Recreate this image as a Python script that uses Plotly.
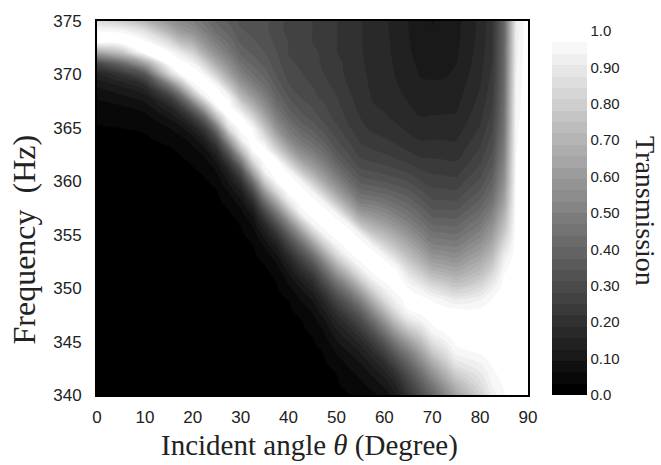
import numpy as np
import plotly.graph_objects as go

# Incident angles (deg) of the sampled columns
angles = [0, 5, 10, 15, 17.5, 20, 22.5, 25, 27.5, 30, 32.5, 35, 37.5, 40, 42.5, 45,
          47.5, 50, 52.5, 55, 57.5, 60, 62.5, 65, 67.5, 70, 72.5, 75, 80, 82.5, 85, 87.5, 90]
# Frequencies (Hz), top to bottom
freqs = [375, 374, 373, 372, 371, 370, 369, 368, 367, 366, 365, 364, 363, 362, 361, 360, 359, 358,
         357, 356, 355, 354, 353, 352, 351, 350, 349, 348, 347, 346, 345, 344, 343, 342, 341, 340]

# Transmission (%), one list per angle, f = 375 ... 340
T00 = [86,97,98.6,62,28,15,10,7,5,3.8, 2.9,2.5,2.2,2.0,1.9,1.7,1.6,1.5,1.4,1.3, 1.2,1.1,1.0,0.9,0.8,0.7,0.6,0.5,0.5,0.4, 0.4,0.3,0.3,0.2,0.2,0.2]
T05 = [80,96.5,99.5,74,40,21,13,9,6,4.5, 3.15,2.6,2.3,2.0,1.8,1.6,1.5,1.4,1.3,1.2, 1.1,1.0,0.9,0.8,0.7,0.6,0.5,0.5,0.4,0.4, 0.3,0.3,0.2,0.2,0.2,0.2]
T10 = [70,88,98.4,98.4,62,33,19,11.5,7.8,5.2, 3.5,2.8,2.4,2.1,1.9,1.7,1.6,1.5,1.4,1.3, 1.2,1.1,1.0,0.9,0.8,0.7,0.6,0.5,0.5,0.4, 0.4,0.3,0.3,0.3,0.2,0.2]
T15 = [58,70,86,98,99.2,80,47,26,15.5,9.8, 6.3,4.0,2.8,2.4,2.1,1.9,1.7,1.6,1.5,1.4, 1.3,1.2,1.1,1.0,0.9,0.8,0.7,0.6,0.5,0.5, 0.4,0.4,0.3,0.3,0.3,0.2]
T175 = [53,61,74,91,99.7,97.2,71,43,25,14.5, 8.6,5.5,3.6,2.75,2.4,2.1,1.9,1.7,1.6,1.5, 1.4,1.3,1.2,1.1,1.0,0.9,0.8,0.7,0.6,0.5, 0.5,0.4,0.4,0.3,0.3,0.3]
T20 = [50,57,68,82,95.2,100,95.5,70,42,24, 14,8.3,5.3,3.65,2.8,2.45,2.2,2.0,1.8,1.6, 1.5,1.4,1.3,1.2,1.1,1.0,0.9,0.8,0.7,0.6, 0.5,0.5,0.4,0.4,0.3,0.3]
T225 = [45,50,57,67,82,96,100,95.3,68,41, 24,14.5,8.6,5.5,3.7,2.8,2.5,2.3,2.0,1.8, 1.6,1.5,1.4,1.3,1.2,1.1,1.0,0.9,0.8,0.7, 0.6,0.5,0.5,0.4,0.4,0.3]
T25 = [40,43,49,56,66,80,95.8,100,96.5,74, 47,29,18,10.5,6.5,4.2,2.85,2.5,2.3,2.0, 1.8,1.6,1.5,1.4,1.3,1.2,1.1,1.0,0.9,0.8, 0.7,0.6,0.5,0.5,0.4,0.4]
T275 = [37,39.5,43,48,55,64,77,94.2,99.7,98.3, 86,62,40,25,15,10,6.5,4.0,2.8,2.4, 2.1,1.9,1.7,1.6,1.5,1.4,1.3,1.2,1.1,1.0, 0.9,0.8,0.7,0.6,0.5,0.5]
T30 = [33.5,35,37,40,45,51,60,71,86,98.7, 99.6,93,74,50,31,19.5,12,7.7,5.0,3.2, 2.6,2.4,2.2,2.0,1.9,1.7,1.6,1.5,1.4,1.3, 1.2,1.1,1.0,0.9,0.8,0.7]
T325 = [33,33.5,35,37,40,44,50.5,59,70,83, 96.3,99.9,98,86,66,44,28,17,10.5,6.8, 4.3,3.0,2.6,2.3,2.1,1.9,1.7,1.6,1.5,1.4, 1.3,1.2,1.1,1.0,0.9,0.8]
T35 = [32,32,33,34.5,36.5,39.5,43.5,49,56,65, 76,88,98.8,99.7,94.8,79,59,41,27,17, 11,6.8,4.2,2.9,2.6,2.3,2.1,1.9,1.7,1.6, 1.5,1.4,1.3,1.2,1.1,1.0]
T375 = [30,30,30.5,31.5,32.5,34,36.5,39.5,44,50, 57,68,81,97.2,100,97.2,84,64,46,32, 21,13.5,8.7,5.4,3.35,2.9,2.6,2.3,2.1,1.9, 1.7,1.6,1.5,1.4,1.3,1.2]
T40 = [27,27,28,28,29,30,31.5,34,37,41, 47,53,64,79,95.6,99.8,98.4,89,70,51, 37,26,17.5,11.8,7.8,5.2,3.25,2.65,2.4,2.2, 2.0,1.8,1.7,1.6,1.5,1.4]
T425 = [26,26,26.5,27,27.5,28.5,29.5,31,33,36, 40,45.5,53,63,78,95,99.6,99.1,93.4,74, 55,40,29,20.5,14,9.5,6.5,4.4,3.05,2.7, 2.4,2.2,2.0,1.9,1.8,1.7]
T45 = [25,25,25,26,26,27,28,29,31,33, 36.5,41,47,55,65,79,94.2,99.4,99.4,94.2, 77,58,42,30,21,14.5,10,7,5,3.5, 2.85,2.6,2.4,2.2,2.1,2.0]
T475 = [23.5,23.5,23.5,24,24.5,25,26,27,28.5,30, 32.5,36,41,47,55,64,78,94.2,99.4,99.4, 94.2,79,62,47,35,25.5,18,13,9.2,6.5, 4.8,3.25,2.9,2.6,2.4,2.2]
T50 = [22,22,22,22,23,23,24,25,26,27, 29,31,34,38.5,45,53,63,77,94.2,99.4, 99.4,94.2,82,66,51,38.5,29,21.5,16,12, 9,6.6,4.6,3.13,2.8,2.5]
T525 = [20.5,20.5,20.5,20.6,20.8,21.2,21.7,22.4,23.2,24.2, 25.5,27.5,30,33,37.5,43.5,51.5,62,76,94.7, 99.4,99.4,94.7,82,66,51,39,29.5,22,16.5, 12.5,9.3,7,5.2,3.9,3.0]
T55 = [19,19,19,19.1,19.3,19.6,20,20.5,21,21.8, 22.8,24.2,26,28.5,32,36.5,42.5,50,61,75, 94.7,99.4,99.4,94.7,83,67,52,40,30.5,23, 17,12.8,9.5,7.1,5.5,4.3]
T575 = [17.5,17.5,17.5,17.6,17.7,17.9,18.1,18.5,19,19.8, 21,23,25,27.5,31,35,41,48.5,57,67, 79,94.7,99.4,99.4,94.7,84,70,56,43,33, 24.5,18,13.5,10,7.5,5.6]
T60 = [16.3,16.3,16.4,16.6,16.8,17,17.3,17.6,18.3,19.2, 20.5,22,24,26.5,30,34,39.5,46,53.5,62, 72,83,95.4,99.6,99.2,94,86,73,59,46, 35,26,19,14,10.2,7.3]
T625 = [14.5,14.5,14.7,14.9,15.1,15.4,15.8,16.3,17.1,18, 19.4,20.8,22.8,25.3,28.7,32.5,37.5,43,49,56.5, 65,74,84,95.5,99.8,99,95,88.5,76,62, 49,38,29,21,16,12]
T65 = [12.5,12.6,12.8,13.1,13.5,14,14.6,15.2,15.9,16.8, 18,19.5,21.5,24,27.3,31,35.3,40,45,51, 58,66,74,83,91.5,97,99,97,89,75, 61,49,40,32,26,21]
T675 = [10.3,10.5,10.8,11.2,11.7,12.3,13,13.8,14.7,15.7, 16.9,18.4,20.2,22.4,25.2,28.4,32,36,40.5,45.5, 51.5,58.5,66,74.5,84,93,98.5,99,94,84, 73,62,52,43,36,30]
T70 = [9.3,9.5,9.9,10.6,11.4,12.1,12.9,13.8,14.8,15.8, 17,18.6,20.3,22.2,24.3,26.6,29.2,32.2,36,40.5, 45.5,51,58,66,76,87,96,99.5,98.5,95, 87,77,66,56,47,40]
T725 = [9.8,10,10.4,11,11.6,12.2,13,13.9,14.9,15.9, 17,18.5,20.1,21.9,23.9,26.3,29,32.1,35.8,40, 44.8,50,56.5,64,73,83,93,98.5,99.5,97.5, 93,86,77.5,68,59,51]
T75 = [11.5,11.6,11.8,12.1,12.5,13,13.6,14.3,15.1,16, 17.1,18.4,19.9,21.6,23.6,26,28.8,32,35.6,39.7, 44.2,49.2,55,62,70,79,90,97.5,99.5,99.5, 98,95,89,80,71,63]
T80 = [16.5,16.6,16.8,17.1,17.5,18,18.6,19.3,20.1,21, 22.2,23.6,25.3,27.2,29.4,32,35,38.5,42.5,47, 52,57.5,63.5,70,77,85,93,97.5,99.5,99.5, 99,97.5,94,90,86,81]
T825 = [21,21.1,21.3,21.6,22,22.5,23.2,24,25,26.2, 27.6,29.2,31,33,35.5,38.5,42,46,50.5,55.5, 61,66.5,72.5,79,86,92.5,97,99,100,100, 99.5,99,97.5,96,94,92]
T85 = [40,40,40.5,41,41,41.5,42,43,43.5,44.5, 45.5,47,49,51,53.5,56,59.5,63,68,73, 78,85,91,95,97.5,99,100,100,100,100, 100,99.5,99,98.5,97.5,96.5]
T875 = [91,91.5,92,92.5,93,93.5,94,94.5,95,95.5, 96,96.3,96.6,96.9,97.2,97.5,97.8,98.1,98.4,98.7, 99,99.3,99.6,100,100,100,100,100,100,100, 100,100,100,100,100,100]
T90 = [100,100,100,100,100,100,100,100,100,100, 100,100,100,100,100,100,100,100,100,100, 100,100,100,100,100,100,100,100,100,100, 100,100,100,100,100,100]

columns = [T00, T05, T10, T15, T175, T20, T225, T25, T275, T30, T325, T35, T375, T40, T425,
           T45, T475, T50, T525, T55, T575, T60, T625, T65, T675, T70, T725, T75, T80, T825,
           T85, T875, T90]

# colour-bar labels and axis ticks
cb_vals = [0, 0.1, 0.2, 0.3, 0.4, 0.5, 0.6, 0.7, 0.8, 0.9, 1.0]
cb_text = ["0.0", "0.10", "0.20", "0.30", "0.40", "0.50", "0.60", "0.70", "0.80", "0.90", "1.0"]
x_ticks = [0, 10, 20, 30, 40, 50, 60, 70, 80, 90]
y_ticks = [340, 345, 350, 355, 360, 365, 370, 375]

Z = np.array(columns, dtype=float).T / 100.0   # rows = frequency
Z = Z[::-1]
F = np.array(freqs, dtype=float)[::-1]

W, H = 661, 465
L, R, T, B = 97, 133, 15, 70
pw, ph = W - L - R, H - T - B

def px2x(px):
    return (px - L) / pw

def py2y(py):
    return (H - B - py) / ph

NB = 32  # number of colour bands
fig = go.Figure()
fig.add_trace(go.Contour(
    x=angles, y=F, z=Z,
    zmin=0, zmax=1,
    autocontour=False,
    contours=dict(start=1/NB, end=(NB - 1)/NB, size=1/NB, coloring="fill", showlines=False),
    line=dict(width=0, smoothing=1.3),
    colorscale=[[0, "#000000"], [1, "#ffffff"]],
    colorbar=dict(
        thickness=35, thicknessmode="pixels",
        len=364, lenmode="pixels",
        x=px2x(552), xanchor="left", xpad=0,
        y=py2y(210), yanchor="middle", ypad=0,
        outlinewidth=0,
        tickvals=cb_vals, ticktext=cb_text,
        ticks="", ticklen=0,
        tickfont=dict(family="Liberation Sans, Arial", size=15, color="#222"),
    ),
    hoverinfo="skip",
))

fig.update_layout(
    width=W, height=H,
    margin=dict(l=L, r=R, t=T, b=B),
    paper_bgcolor="white", plot_bgcolor="white",
    xaxis=dict(range=[0, 90], tickvals=x_ticks, showgrid=False, zeroline=False,
               showline=True, mirror=True, linecolor="black", linewidth=2,
               ticks="", ticklabelstandoff=6,
               tickfont=dict(family="Liberation Sans, Arial", size=17, color="#222")),
    yaxis=dict(range=[340, 375], tickvals=y_ticks, showgrid=False, zeroline=False,
               showline=True, mirror=True, linecolor="black", linewidth=2,
               ticks="", ticklabelstandoff=10,
               tickfont=dict(family="Liberation Sans, Arial", size=17, color="#222")),
    annotations=[
        dict(text="Frequency\u00a0 (Hz)", x=px2x(24), y=py2y(237), xref="paper", yref="paper",
             showarrow=False, textangle=-90, xanchor="center", yanchor="middle",
             font=dict(family="Liberation Serif, Times New Roman", size=32, color="#222")),
        dict(text="Incident angle <i>θ</i> (Degree)", x=px2x(309), y=py2y(446), xref="paper", yref="paper",
             showarrow=False, xanchor="center", yanchor="middle",
             font=dict(family="Liberation Serif, Times New Roman", size=29, color="#222")),
        dict(text="Transmission", x=px2x(645), y=py2y(208), xref="paper", yref="paper",
             showarrow=False, textangle=90, xanchor="center", yanchor="middle",
             font=dict(family="Liberation Serif, Times New Roman", size=28, color="#222")),
    ],
)

fig.write_html("out.html")
